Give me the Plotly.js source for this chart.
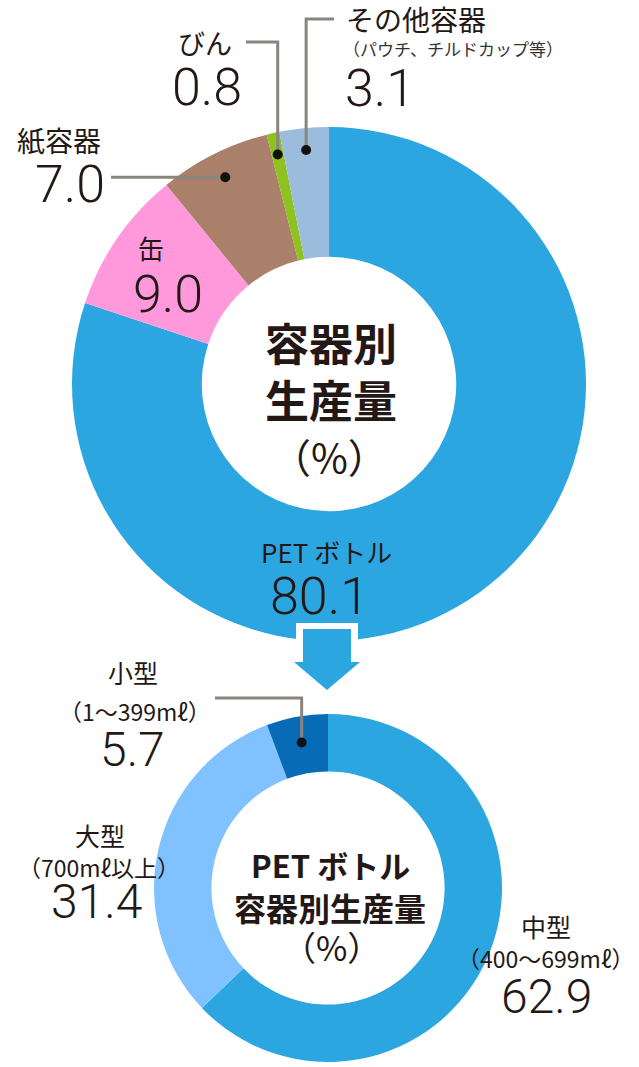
<!DOCTYPE html>
<html>
<head>
<meta charset="utf-8">
<script src="https://cdn.plot.ly/plotly-3.0.1.min.js"></script>
<style>
html,body{margin:0;padding:0;background:#fff;}
#chart{width:639px;height:1067px;}
</style>
</head>
<body>
<div id="chart"></div>
<script>
// ---------- data ----------
const mainLabels = ['PET ボトル', '缶', '紙容器', 'びん', 'その他容器'];
const mainValues = [80.1, 9.0, 7.0, 0.8, 3.1];
const mainColors = ['#2ca6e0', '#ff99dc', '#aa806a', '#8dc21f', '#9cbcdd'];
const otherNote = '（パウチ、チルドカップ等）';
const mainCenter = ['容器別', '生産量', '（%）'];

const petLabels = ['中型', '大型', '小型'];
const petNotes = ['（400～699mℓ）', '（700mℓ以上）', '（1～399mℓ）'];
const petValues = [62.9, 31.4, 5.7];
const petColors = ['#2ca6e0', '#80c2ff', '#076bb6'];
const petCenter = ['PET ボトル', '容器別生産量', '（%）'];

// ---------- geometry helpers ----------
const W = 639, H = 1067;
const X = v => v / W;
const Y = v => 1 - v / H;
const TOP = {cx: 329, cy: 384, r: 257, hole: 0.495};
const BOT = {cx: 328, cy: 888, r: 174, hole: 0.67};

function domainOf(g) {
  return {x: [X(g.cx - g.r), X(g.cx + g.r)], y: [Y(g.cy + g.r), Y(g.cy - g.r)]};
}
// midpoint of slice i (clockwise from 12 o'clock) at radius factor f
function midPoint(g, values, i, f) {
  const tot = values.reduce((a, b) => a + b, 0);
  let cum = 0;
  for (let k = 0; k < i; k++) cum += values[k];
  const frac = (cum + values[i] / 2) / tot;
  const ang = frac * 2 * Math.PI;
  return {x: g.cx + Math.sin(ang) * g.r * f, y: g.cy - Math.cos(ang) * g.r * f};
}

const CJK = '"Noto Sans CJK JP", "Noto Sans", sans-serif';
const NUM = 'Roboto, "Liberation Sans", sans-serif';
const INK = '#231815';

const ann = [];
function txt(text, x, y, size, opts) {
  opts = opts || {};
  ann.push({
    text: text, x: X(x), y: Y(y), xref: 'paper', yref: 'paper',
    xanchor: opts.anchor || 'center', yanchor: 'middle', showarrow: false,
    font: {family: opts.family || CJK, size: size, color: opts.color || INK, weight: opts.weight || 400}
  });
}
const fmt = v => v.toFixed(1);

// top donut labels
txt(mainLabels[4], 344, 19, 28, {anchor: 'left'});
txt(otherNote, 341, 48, 17, {anchor: 'left', color: '#333'});
txt(fmt(mainValues[4]), 343, 88, 52, {anchor: 'left', family: NUM, weight: 300});
txt(mainLabels[3], 176, 43, 27, {anchor: 'left'});
txt(fmt(mainValues[3]), 170, 87, 52, {anchor: 'left', family: NUM, weight: 300});
txt(mainLabels[2], 15, 140, 28, {anchor: 'left'});
txt(fmt(mainValues[2]), 33, 185, 52, {anchor: 'left', family: NUM, weight: 300});
txt(mainLabels[1], 151, 247, 26);
txt(fmt(mainValues[1]), 168, 294, 52, {family: NUM, weight: 300});
txt(mainLabels[0], 326, 551, 26);
txt(fmt(mainValues[0]), 319, 596, 52, {family: NUM, weight: 300});
txt(mainCenter[0], 331, 342, 44, {weight: 700});
txt(mainCenter[1], 331, 399, 44, {weight: 700});
txt(mainCenter[2], 329, 456, 40);

// bottom donut labels
txt(petLabels[2], 133, 672, 25);
txt(petNotes[2], 135, 711, 23);
txt(fmt(petValues[2]), 132, 749, 48, {family: NUM, weight: 300});
txt(petLabels[1], 100, 835, 25);
txt(petNotes[1], 99, 867, 23);
txt(fmt(petValues[1]), 96, 901, 48, {family: NUM, weight: 300});
txt(petLabels[0], 546, 926, 25);
txt(petNotes[0], 545, 958, 23);
txt(fmt(petValues[0]), 546, 996, 48, {family: NUM, weight: 300});
txt(petCenter[0], 330, 864, 31, {weight: 700});
txt(petCenter[1], 330, 907, 32, {weight: 700});
txt(petCenter[2], 332, 947, 34);

// ---------- shapes: leader lines, dots, arrow ----------
const shapes = [];
const LINE = '#8a847f';
function poly(pts, closed, style) {
  let d = pts.map((p, i) => (i ? 'L' : 'M') + X(p[0]) + ',' + Y(p[1])).join(' ');
  if (closed) d += ' Z';
  shapes.push(Object.assign({type: 'path', xref: 'paper', yref: 'paper', path: d, layer: 'above'}, style));
}
function dot(p) {
  const rr = 5;
  shapes.push({type: 'circle', xref: 'paper', yref: 'paper', layer: 'above',
    x0: X(p.x - rr), x1: X(p.x + rr), y0: Y(p.y + rr), y1: Y(p.y - rr),
    fillcolor: '#111', line: {width: 0}});
}
const lineStyle = {line: {color: LINE, width: 3}};

const dOther = midPoint(TOP, mainValues, 4, 0.915);
const dBin = midPoint(TOP, mainValues, 3, 0.915);
const dPaper = midPoint(TOP, mainValues, 2, 0.9);
const dSmall = midPoint(BOT, petValues, 2, 0.85);

poly([[dOther.x, dOther.y], [dOther.x, 19], [334, 19]], false, lineStyle);
poly([[dBin.x, dBin.y], [dBin.x, 42], [246, 42]], false, lineStyle);
poly([[dPaper.x, dPaper.y], [111, dPaper.y]], false, lineStyle);
poly([[dSmall.x, dSmall.y], [dSmall.x, 698], [215, 698]], false, lineStyle);

// arrow between the two donuts
poly([[296, 623], [358, 623], [358, 664], [296, 664]], true, {fillcolor: '#fff', line: {width: 0}});
poly([[303, 629], [351, 629], [351, 662], [360, 662], [327, 690], [294, 662], [303, 662]], true,
  {fillcolor: '#2ca6e0', line: {width: 0}});

[dOther, dBin, dPaper, dSmall].forEach(dot);

// ---------- traces ----------
const traces = [
  {type: 'pie', labels: mainLabels, values: mainValues, hole: TOP.hole, sort: false,
   direction: 'clockwise', rotation: 0, textinfo: 'none', hoverinfo: 'none',
   marker: {colors: mainColors, line: {width: 0}}, domain: domainOf(TOP), showlegend: false},
  {type: 'pie', labels: petLabels, values: petValues, hole: BOT.hole, sort: false,
   direction: 'clockwise', rotation: 0, textinfo: 'none', hoverinfo: 'none',
   marker: {colors: petColors, line: {width: 0}}, domain: domainOf(BOT), showlegend: false}
];

const layout = {
  width: W, height: H, margin: {l: 0, r: 0, t: 0, b: 0},
  paper_bgcolor: '#fff', plot_bgcolor: '#fff', showlegend: false,
  annotations: ann, shapes: shapes
};

Plotly.newPlot('chart', traces, layout, {staticPlot: true, displayModeBar: false});
</script>
</body>
</html>
